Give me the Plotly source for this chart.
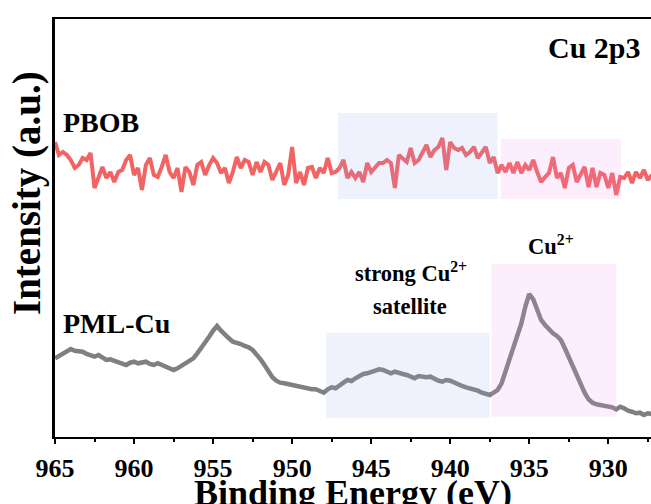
import numpy as np
import plotly.graph_objects as go

# Binding-energy grid (eV), 0.25 eV steps from 965 eV down to 927.25 eV
be_start, be_step, n_pts = 965.0, 0.25, 152
binding_energy = be_start - be_step * np.arange(n_pts)

# PBOB Cu 2p3 spectrum (a.u., offset for stacking)
pbob = [
    295, 282, 285, 282, 277, 269, 272, 279, 277, 284,
    249, 259, 270, 259, 265, 255, 265, 267, 277, 282,
    262, 269, 247, 272, 279, 262, 260, 270, 282, 265,
    259, 269, 245, 270, 265, 252, 272, 275, 262, 272,
    279, 274, 264, 269, 254, 265, 280, 269, 277, 275,
    262, 275, 265, 275, 272, 257, 265, 274, 252, 262,
    290, 254, 265, 252, 269, 270, 259, 269, 264, 279,
    264, 265, 269, 277, 259, 265, 259, 265, 255, 274,
    265, 270, 274, 274, 277, 274, 249, 282, 279, 275,
    289, 274, 277, 285, 292, 280, 287, 290, 299, 267,
    295, 289, 287, 289, 282, 285, 290, 279, 285, 290,
    274, 280, 264, 272, 265, 274, 264, 275, 264, 272,
    267, 277, 265, 255, 260, 264, 280, 259, 264, 249,
    269, 272, 255, 262, 270, 250, 269, 250, 264, 262,
    249, 264, 242, 260, 259, 265, 254, 265, 259, 267,
    257, 262,
]

# PML-Cu Cu 2p3 spectrum (a.u.)
pml_cu = [
    78.7, 81.0, 83.7, 85.3, 88.0, 86.3, 85.3, 85.3, 83.0, 82.0,
    80.3, 82.0, 79.7, 77.0, 77.7, 76.3, 75.3, 74.3, 72.0, 74.3,
    75.3, 73.7, 74.3, 75.3, 73.0, 72.0, 73.7, 72.0, 70.3, 68.7,
    67.0, 68.7, 71.0, 73.7, 75.3, 78.7, 83.7, 88.7, 94.3, 100.3,
    106.3, 111.0, 106.3, 102.0, 98.7, 95.3, 94.3, 93.0, 91.0, 89.7,
    87.0, 83.0, 77.7, 72.0, 65.3, 59.7, 56.3, 54.3, 53.7, 52.7,
    52.0, 51.0, 49.7, 49.7, 48.7, 47.7, 47.7, 46.3, 44.3, 47.7,
    49.7, 48.7, 52.0, 54.3, 57.0, 56.0, 58.7, 61.0, 63.0, 63.7,
    65.3, 67.0, 67.7, 67.0, 65.3, 63.7, 65.3, 63.7, 63.0, 62.0,
    60.3, 58.7, 61.0, 60.3, 59.7, 60.3, 57.7, 56.3, 55.3, 57.0,
    56.3, 54.3, 53.0, 51.0, 49.7, 48.7, 47.7, 46.3, 44.3, 43.0,
    42.0, 44.3, 47.0, 53.7, 65.3, 77.0, 88.7, 102.0, 113.7, 130.3,
    143.0, 137.7, 127.0, 117.0, 112.0, 107.0, 103.7, 101.0, 97.0, 88.7,
    79.7, 70.3, 61.0, 53.0, 44.3, 37.7, 34.3, 32.7, 32.0, 32.0,
    30.3, 29.7, 27.7, 30.3, 28.7, 26.3, 25.3, 23.7, 24.3, 22.0,
    23.7, 23.0,
]

# Highlighted regions (eV and a.u. bounds) and their fills
region_x0 = [947.1, 936.8, 947.85, 937.4]
region_x1 = [937.0, 929.2, 937.5, 929.5]
region_y0 = [238, 238, 19.3, 20.3]
region_y1 = [324, 298, 104.3, 173]
region_fill = ["rgba(148,162,242,0.15)", "rgba(235,142,235,0.15)",
               "rgba(148,162,242,0.15)", "rgba(235,142,235,0.15)"]

x_ticks = [965, 960, 955, 950, 945, 940, 935, 930]
x_range = [965, 927.3]
y_range = [0, 418]

SERIF = "Liberation Serif, Times New Roman, serif"

fig = go.Figure()
fig.add_trace(go.Scatter(x=binding_energy, y=pbob, mode="lines",
                         line=dict(color="rgb(242,100,100)", width=4),
                         name="PBOB", showlegend=False))
fig.add_trace(go.Scatter(x=binding_energy, y=pml_cu, mode="lines",
                         line=dict(color="rgb(128,128,128)", width=4.5),
                         name="PML-Cu", showlegend=False))

for x0, x1, y0, y1, fc in zip(region_x0, region_x1, region_y0, region_y1, region_fill):
    fig.add_shape(type="rect", xref="x", yref="y", x0=x0, x1=x1, y0=y0, y1=y1,
                  fillcolor=fc, line=dict(width=0), layer="above")

W, H = 651, 504
L, R, T, B = 55, 0, 19, 67
pw, ph = W - L - R, H - T - B


def px(xp):
    return (xp - L) / pw


def py(yp):
    return (H - B - yp) / ph


def label(text, xp, yp, size, xanchor="center", angle=0):
    fig.add_annotation(text=text, xref="paper", yref="paper", x=px(xp), y=py(yp),
                       xanchor=xanchor, yanchor="middle", showarrow=False,
                       textangle=angle,
                       font=dict(family=SERIF, size=size, color="black", weight="bold"))


label("Cu 2p3", 643, 48, 30, xanchor="right")
label("PBOB", 61, 122, 28, xanchor="left")
label("PML-Cu", 61, 323, 28, xanchor="left")
label("strong Cu<sup>2+</sup>", 411, 272, 22.5)
label("satellite", 410, 306, 22.5)
label("Cu<sup>2+</sup>", 551, 245, 22.5)
label("Intensity (a.u.)", 27, 193, 39, angle=-90)
label("Binding Energy (eV)", 353, 493, 36)

fig.update_layout(
    width=W, height=H,
    margin=dict(l=L, r=R, t=T, b=B, pad=0),
    plot_bgcolor="white", paper_bgcolor="white",
    xaxis=dict(range=x_range, tickvals=x_ticks, ticktext=[str(v) for v in x_ticks],
               showgrid=False, zeroline=False, showline=True, linecolor="black",
               linewidth=2, mirror=True, ticks="outside", ticklen=5, tickwidth=2,
               tickcolor="black", ticklabelstandoff=2,
               minor=dict(dtick=2.5, tick0=965, ticks="outside", ticklen=3,
                          tickwidth=2, tickcolor="black", showgrid=False),
               tickfont=dict(family=SERIF, size=26, color="black", weight="bold")),
    yaxis=dict(range=y_range, showgrid=False, zeroline=False, showline=True,
               linecolor="black", linewidth=2.5, showticklabels=False, ticks=""),
)

fig.write_html("out.html")
